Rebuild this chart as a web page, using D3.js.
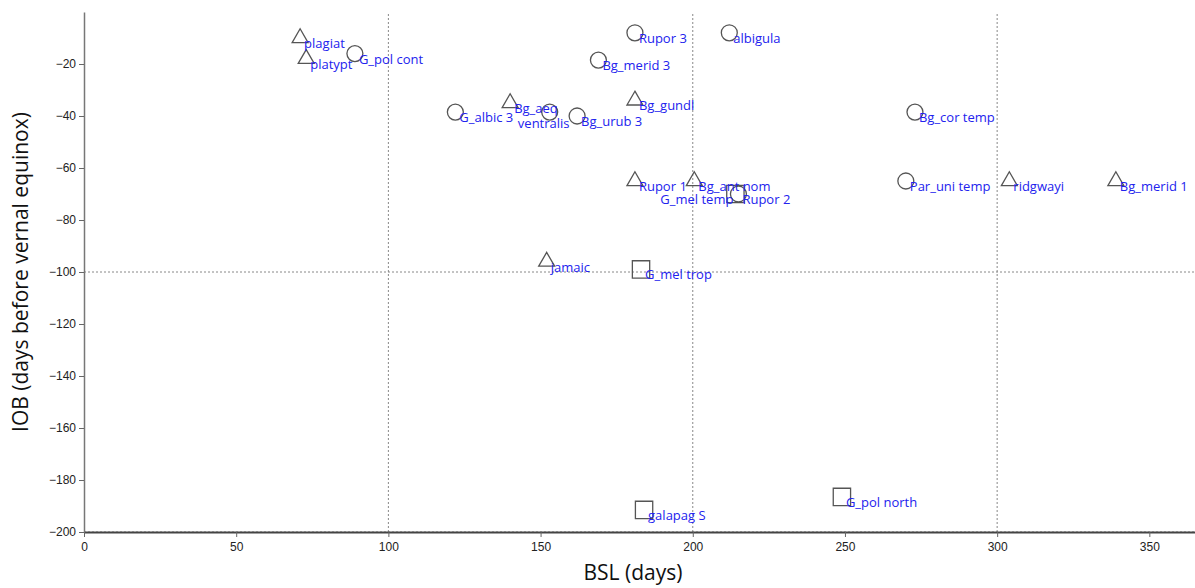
<!DOCTYPE html>
<html>
<head>
<meta charset="utf-8">
<script src="https://cdn.jsdelivr.net/npm/d3@7"></script>
<style>
  body { margin: 0; background: #fff; }
  svg { font-family: "Open Sans", "Noto Sans", sans-serif; }
</style>
</head>
<body>
<div id="chart"></div>
<script>
// species labels, BSL (days), IOB (days before vernal equinox), marker shape
const names = ["plagiat", "platypt", "G_pol cont", "Rupor 3", "albigula", "Bg_merid 3",
  "Bg_aeq", "G_albic 3", "ventralis", "Bg_urub 3", "Bg_gundl", "Bg_cor temp",
  "Rupor 1", "Bg_ant nom", "G_mel temp", "Rupor 2", "Par_uni temp", "ridgwayi",
  "Bg_merid 1", "jamaic", "G_mel trop", "galapag S", "G_pol north"]
const bsl = [71, 73, 89, 181, 212, 169,
  140, 122, 153, 162, 181, 273,
  181, 200.5, 214, 215, 270, 304,
  339, 152, 183, 184, 249]
const iob = [-10, -18, -16, -8, -8, -18.5,
  -35, -38.5, -38.5, -40, -34, -38.5,
  -65, -65, -70, -70, -65, -65,
  -65, -96, -99, -191.5, -186.5]
const shapes = ["triangle", "triangle", "circle", "circle", "circle", "circle",
  "triangle", "circle", "circle", "circle", "triangle", "circle",
  "triangle", "triangle", "square", "circle", "circle", "triangle",
  "triangle", "triangle", "square", "square", "square"]

const xTicks = [0, 50, 100, 150, 200, 250, 300, 350]
const yTicks = [-20, -40, -60, -80, -100, -120, -140, -160, -180, -200]
const xGrid = [100, 200, 300]
const yGrid = [-100, -200]

// labels not placed to the lower right of their marker
const leftLabels = ["G_mel temp"]
const belowLabels = ["ventralis"]

const width = 1195, height = 588
const margin = { left: 84, right: 0, top: 12, bottom: 56 }

const data = names.map((n, i) => ({ name: n, x: bsl[i], y: iob[i], shape: shapes[i] }))

const x = d3.scaleLinear().domain([0, 365]).range([margin.left, width - margin.right])
const y = d3.scaleLinear().domain([-200, 0]).range([height - margin.bottom, margin.top])

const svg = d3.select("#chart").append("svg")
  .attr("width", width)
  .attr("height", height)

// grid lines
svg.append("g").selectAll("line")
  .data(xGrid)
  .enter()
  .append("line")
  .attr("x1", d => x(d)).attr("x2", d => x(d))
  .attr("y1", y(-200)).attr("y2", y(0))
  .attr("stroke", "#888")
  .attr("stroke-dasharray", "2,2")
  .attr("stroke-width", 1)

svg.append("g").selectAll("line")
  .data(yGrid)
  .enter()
  .append("line")
  .attr("x1", x(0)).attr("x2", width)
  .attr("y1", d => y(d)).attr("y2", d => y(d))
  .attr("stroke", "#888")
  .attr("stroke-dasharray", "2,2")
  .attr("stroke-width", 1)

// axes
const xAxis = svg.append("g")
  .attr("transform", `translate(0,${y(-200)})`)
  .call(d3.axisBottom(x).tickValues(xTicks).tickSize(5).tickSizeOuter(0))
xAxis.select(".domain").attr("stroke", "#444").attr("stroke-width", 2)
xAxis.selectAll(".tick line").attr("stroke", "#666")
xAxis.selectAll("text").attr("font-size", 12).attr("fill", "#222").attr("dy", "0.9em")

const yAxis = svg.append("g")
  .attr("transform", `translate(${x(0)},0)`)
  .call(d3.axisLeft(y).tickValues(yTicks).tickSize(5).tickSizeOuter(0))
yAxis.select(".domain").attr("stroke", "#777").attr("stroke-width", 1.5)
yAxis.selectAll(".tick line").attr("stroke", "#666")
yAxis.selectAll("text").attr("font-size", 12).attr("fill", "#222")

// axis titles
svg.append("text")
  .attr("x", 633)
  .attr("y", 580)
  .attr("text-anchor", "middle")
  .attr("font-size", 21)
  .attr("fill", "#111")
  .text("BSL (days)")

svg.append("text")
  .attr("transform", `translate(28,${y(-100)})rotate(-90)`)
  .attr("text-anchor", "middle")
  .attr("font-size", 21)
  .attr("fill", "#111")
  .text("IOB (days before vernal equinox)")

// markers
const symbolType = { circle: d3.symbolCircle, triangle: d3.symbolTriangle, square: d3.symbolSquare }
const symbolSize = { circle: 200, triangle: 110, square: 300 }

svg.append("g").selectAll("path")
  .data(data)
  .enter()
  .append("path")
  .attr("transform", d => `translate(${x(d.x)},${y(d.y)})`)
  .attr("d", d => d3.symbol().type(symbolType[d.shape]).size(symbolSize[d.shape])())
  .attr("fill", "none")
  .attr("stroke", "#555")
  .attr("stroke-width", 1.3)

// labels
svg.append("g").selectAll("text")
  .data(data)
  .enter()
  .append("text")
  .attr("x", d => leftLabels.includes(d.name) ? x(d.x) - 2
    : belowLabels.includes(d.name) ? x(d.x) - 6 : x(d.x) + 4)
  .attr("y", d => belowLabels.includes(d.name) ? y(d.y) + 16 : y(d.y) + 10)
  .attr("text-anchor", d => leftLabels.includes(d.name) ? "end"
    : belowLabels.includes(d.name) ? "middle" : "start")
  .attr("font-size", 13)
  .attr("fill", "#2222ee")
  .text(d => d.name)
</script>
</body>
</html>
